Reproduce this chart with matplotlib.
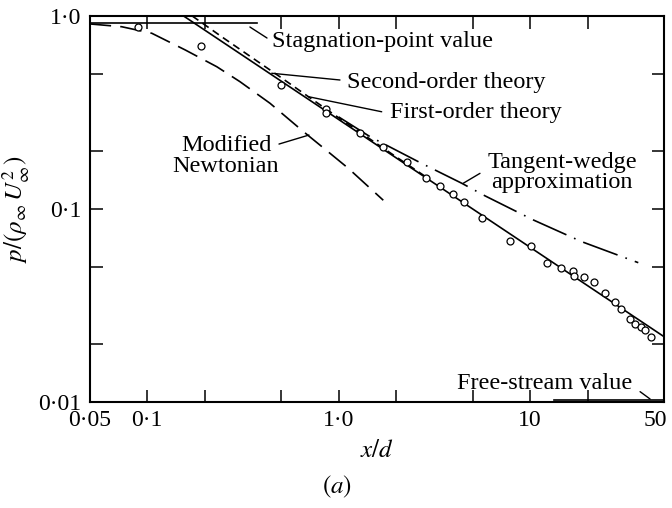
import numpy as np
import matplotlib
matplotlib.use('Agg')
import matplotlib.pyplot as plt
from matplotlib.transforms import ScaledTranslation

plt.rcParams['font.family'] = 'Liberation Serif'
plt.rcParams['mathtext.fontset'] = 'stix'

# Measured pressure distribution
data_x = [0.09, 0.19, 0.50, 0.86, 0.86, 1.29, 1.71, 2.27, 2.86, 3.38, 3.94, 4.51,
          5.59, 7.82, 10.1, 12.3, 14.5, 16.8, 16.9, 19.0, 21.5, 24.7, 27.8, 29.8,
          33.2, 35.3, 37.7, 39.9, 42.6]
data_p = [0.877, 0.695, 0.439, 0.328, 0.313, 0.248, 0.210, 0.176, 0.145, 0.132, 0.119, 0.109,
          0.0895, 0.0684, 0.064, 0.0523, 0.0492, 0.0477, 0.0451, 0.0444, 0.042, 0.0367, 0.033, 0.0302,
          0.0268, 0.0254, 0.0246, 0.0236, 0.0218]

# First-order (blast-wave) theory, straight on log-log axes
first_x = [0.155, 50.0]
first_p = [1.0, 0.0218]

# Second-order theory
second_x = [0.172, 0.25, 0.35, 0.5, 0.7, 1.0, 2.0, 3.0]
second_p = [1.0, 0.77, 0.612, 0.48, 0.38, 0.297, 0.186, 0.142]

# Modified Newtonian
newt_x = [0.05, 0.0736, 0.1057, 0.158, 0.231, 0.305, 0.438, 0.654, 0.849, 1.123, 1.71]
newt_p = [0.91, 0.88, 0.814, 0.667, 0.546, 0.457, 0.353, 0.252, 0.204, 0.1625, 0.111]

# Tangent-wedge approximation
tw_x = [1.0, 1.458, 2.66, 4.39, 5.81, 10.4, 18.6, 36.7]
tw_p = [0.30, 0.237, 0.174, 0.136, 0.117, 0.0877, 0.0677, 0.0527]

# Reference levels
stag_x = [0.05, 0.375]
stag_p = [0.92, 0.92]
free_x = [13.3, 50.0]
free_p = [0.0102, 0.0102]

fig = plt.figure(figsize=(6.72, 5.08), dpi=100)
ax = fig.add_axes([0.1332, 0.2087, 0.8549, 0.7598])

lw = 1.2
ax.plot(first_x, first_p, color='black', lw=lw)
ax.plot(second_x, second_p, color='black', lw=lw, linestyle=(0, (4.5, 3)))
ax.plot(newt_x, newt_p, color='black', lw=lw, linestyle=(0, (13, 5.5)))
ax.plot(tw_x, tw_p, color='black', lw=lw, linestyle=(0, (22, 5, 1, 5)))
ax.plot(stag_x, stag_p, color='black', lw=lw)
ax.plot(free_x, free_p, color='black', lw=lw)
ax.plot(data_x, data_p, linestyle='none', marker='o', ms=5, mfc='white',
        mec='black', mew=0.9)

ax.set_xscale('log')
ax.set_yscale('log')
ax.set_xlim(0.05, 50)
ax.set_ylim(0.01, 1.0)

xt = [0.05, 0.1, 0.2, 0.5, 1, 2, 5, 10, 20, 50]
xtl = ['0·05', '0·1', '', '', '1·0', '', '', '10', '', '50']
yt = [0.01, 0.02, 0.05, 0.1, 0.2, 0.5, 1.0]
ytl = ['0·01', '', '', '0·1', '', '', '1·0']
ax.xaxis.set_major_locator(matplotlib.ticker.FixedLocator(xt))
ax.yaxis.set_major_locator(matplotlib.ticker.FixedLocator(yt))
ax.xaxis.set_minor_locator(matplotlib.ticker.NullLocator())
ax.yaxis.set_minor_locator(matplotlib.ticker.NullLocator())
ax.set_xticklabels(xtl)
ax.set_yticklabels(ytl)
ax.tick_params(which='both', direction='in', top=True, right=True, length=9,
               width=1.1, labelsize=17, pad=6)
for s in ax.spines.values():
    s.set_linewidth(1.5)

# keep the last x label inside the figure edge
last = ax.get_xticklabels()[-1]
last.set_transform(last.get_transform() + ScaledTranslation(-9 / 100, 0, fig.dpi_scale_trans))

ax.set_xlabel(r'$x/d$', fontsize=18, labelpad=6)
ax.set_ylabel(r'$p/(\rho_\infty\,U_\infty^2)$', fontsize=18, labelpad=4)
fig.text(337 / 672, 1 - 487 / 508, r'$(a)$', fontsize=18, ha='center', va='center')

fs = 17.5
line = dict(arrowstyle='-', color='black', lw=1.0, shrinkA=0, shrinkB=0)

ax.annotate('', xy=(0.344, 0.877), xytext=(0.4225, 0.769), arrowprops=line)
ax.text(0.449, 0.742, 'Stagnation-point value', fontsize=fs, ha='left', va='center')

ax.annotate('', xy=(0.447, 0.505), xytext=(1.016, 0.466), arrowprops=line)
ax.text(1.102, 0.450, 'Second-order theory', fontsize=fs, ha='left', va='center')

ax.annotate('', xy=(0.694, 0.382), xytext=(1.678, 0.319), arrowprops=line)
ax.text(1.854, 0.318, 'First-order theory', fontsize=fs, ha='left', va='center')

ax.annotate('', xy=(0.700, 0.2417), xytext=(0.488, 0.217), arrowprops=line)
ax.text(0.258, 0.188, 'Modified\nNewtonian', fontsize=fs, ha='center', va='center',
        linespacing=1.0)

ax.annotate('', xy=(4.477, 0.136), xytext=(5.47, 0.153), arrowprops=line)
ax.text(14.67, 0.1546, 'Tangent-wedge\napproximation', fontsize=fs, ha='center',
        va='center', linespacing=0.95)

ax.annotate('', xy=(42.3, 0.01036), xytext=(37.5, 0.01131), arrowprops=line)
ax.text(11.96, 0.01254, 'Free-stream value', fontsize=fs, ha='center', va='center')

fig.savefig('out.png', dpi=100)
